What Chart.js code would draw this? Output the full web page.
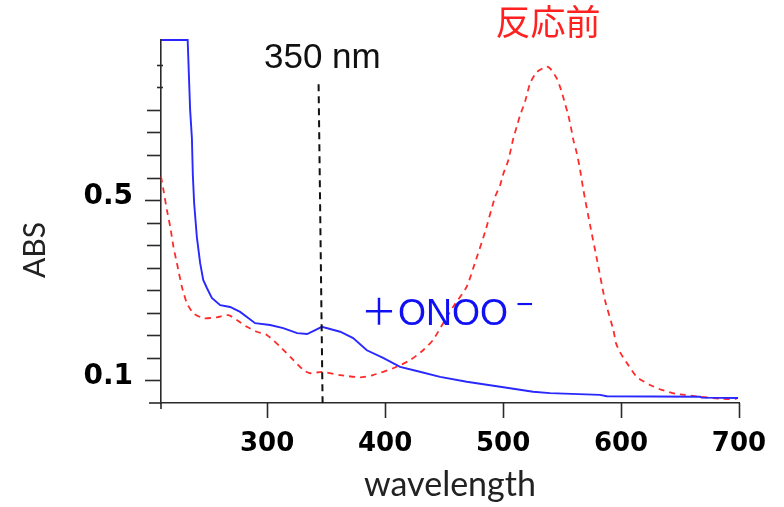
<!DOCTYPE html>
<html><head><meta charset="utf-8">
<script src="https://cdn.jsdelivr.net/npm/chart.js@4.4.0/dist/chart.umd.min.js"></script>
<style>html,body{margin:0;padding:0;background:#fff;overflow:hidden}</style>
</head><body>
<canvas id="c" width="784" height="507" style="display:block;width:784px;height:507px"></canvas>
<script>
// ---- data ----
const wavelengthBefore = [210,212.1,215,217.8,220.6,223.5,227.7,232,237.5,246,257.4,267.2,274.3,282.8,291.3,299.7,311,322.3,330.8,336.4,346.4,361.9,378.8,389.8,406.8,421.2,432.2,440.7,449.2,457.6,469.2,476.3,484.7,493.2,497.5,500.3,504.5,508.7,511.6,514.4,518.6,522.9,528.6,537,539.8,545.5,549.2,552.5,555.3,557.4,559.6,562.5,565.3,568.1,573.7,579.7,586.4,593.5,595.8,599.7,606.2,613.3,624.6,634.5,645.8,654.2,666.9,686.7,698];
const absBefore = [0.552,0.522,0.478,0.441,0.396,0.360,0.308,0.271,0.249,0.238,0.240,0.245,0.234,0.219,0.208,0.201,0.175,0.145,0.123,0.116,0.119,0.112,0.107,0.112,0.127,0.145,0.167,0.190,0.227,0.263,0.308,0.362,0.429,0.507,0.533,0.559,0.589,0.637,0.663,0.688,0.718,0.759,0.784,0.796,0.792,0.770,0.744,0.714,0.688,0.663,0.633,0.604,0.567,0.522,0.445,0.367,0.278,0.212,0.182,0.160,0.134,0.108,0.090,0.079,0.071,0.068,0.064,0.059,0.059];
const wavelengthONOO = [210,232.6,233.5,234.7,236.2,237,238.1,240.4,243.2,245.8,248.9,253.1,260.2,268.6,277.1,289.8,302.5,313.6,325.4,333.9,346.4,361.9,372.9,384.5,398.3,412.7,426.9,446.6,469.2,497.5,525.4,539.8,582.2,587.9,666.9,668.3,699.2];
const absONOO = [0.855,0.855,0.788,0.700,0.637,0.555,0.493,0.418,0.360,0.323,0.305,0.283,0.267,0.263,0.252,0.227,0.223,0.216,0.205,0.203,0.219,0.208,0.194,0.167,0.150,0.130,0.121,0.108,0.097,0.086,0.075,0.072,0.068,0.065,0.064,0.062,0.061];
const markerWavelength = [343.6,347];
const markerAbs = [0.757,0.05];
const xTickLabels = [300,400,500,600,700];
const yTickLabels = [0.1,0.5];
const yMinorTicks = [0.1,0.15,0.2,0.25,0.3,0.35,0.4,0.45,0.5,0.55,0.6,0.65,0.7,0.75,0.8];
const xAxisRange = [210,700];
const yAxisRange = [0.05,0.855];

const pts = (xs, ys) => xs.map((x,i)=>({x, y: ys[i]}));

const decor = {
  id:'decor',
  afterDraw(chart){
    const ctx = chart.ctx, xs = chart.scales.x, ys = chart.scales.y, ca = chart.chartArea;
    ctx.save();
    ctx.strokeStyle = '#2a2a2a'; ctx.lineWidth = 1.6;
    ctx.beginPath(); ctx.moveTo(149, ca.bottom); ctx.lineTo(ca.left, ca.bottom); ctx.stroke();
    yMinorTicks.forEach(v=>{
      const y = Math.round(ys.getPixelForValue(v))+0.5;
      let len = 14, ext = 0;
      if (v >= 0.745) { len = 4; ext = 2; }
      if (Math.abs(v-0.1)<1e-6 || Math.abs(v-0.5)<1e-6) len = 16;
      ctx.beginPath(); ctx.moveTo(ca.left-len, y); ctx.lineTo(ca.left+ext, y); ctx.stroke();
    });
    ctx.beginPath(); ctx.moveTo(ca.left, ca.bottom); ctx.lineTo(ca.left, ca.bottom+6); ctx.stroke();
    xTickLabels.forEach(v=>{
      const x = Math.round(xs.getPixelForValue(v))+0.5;
      ctx.beginPath(); ctx.moveTo(x, ca.bottom); ctx.lineTo(x, ca.bottom+15); ctx.stroke();
    });
    // tick labels
    ctx.fillStyle = '#000';
    ctx.font = 'bold 26px "DejaVu Sans"'; ctx.textAlign='center'; ctx.textBaseline='alphabetic';
    xTickLabels.forEach(v=> ctx.fillText(String(v), xs.getPixelForValue(v), ca.bottom + 48));
    ctx.font = 'bold 28px "DejaVu Sans"'; ctx.textAlign='right';
    yTickLabels.forEach(v=> ctx.fillText(String(v), 133, ys.getPixelForValue(v) + 4));
    // axis title
    ctx.save();
    ctx.translate(35, 250); ctx.rotate(-Math.PI/2);
    ctx.fillStyle = '#222'; ctx.font = '30px Lato'; ctx.textAlign='center'; ctx.textBaseline='middle';
    ctx.fillText('ABS', 0, 0);
    ctx.restore();
    // annotations
    ctx.fillStyle = '#111'; ctx.font = '35px "Liberation Sans"'; ctx.textAlign='center'; ctx.textBaseline='alphabetic';
    ctx.fillText('350 nm', xs.getPixelForValue(346.8), 68);
    ctx.fillStyle = '#ff2020'; ctx.font = '35px "Noto Sans CJK JP"'; ctx.textAlign='center'; ctx.textBaseline='middle';
    ctx.fillText('反応前', xs.getPixelForValue(538), 22);
    ctx.fillStyle = '#1010f5';
    ctx.font = '36px "Noto Sans CJK JP"'; ctx.textAlign='left'; ctx.textBaseline='alphabetic';
    ctx.fillText('＋', 361, 325);
    ctx.font = '36px "Liberation Sans"';
    ctx.fillText('ONOO', 398, 325);
    ctx.font = '30px "Liberation Sans"';
    ctx.fillText('−', 516, 314);
    ctx.restore();
  }
};

new Chart(document.getElementById('c'), {
  type:'line',
  data:{ datasets:[
    { data: pts(markerWavelength, markerAbs), borderColor:'#111', borderWidth:2, borderDash:[7,5], pointRadius:0, tension:0, clip:8 },
    { data: pts(wavelengthONOO, absONOO), borderColor:'#2828ff', borderWidth:1.9, pointRadius:0, tension:0, clip:8 },
    { data: pts(wavelengthBefore, absBefore), borderColor:'#ff2a2a', borderWidth:1.8, borderDash:[6,5], pointRadius:0, tension:0.2, clip:8 }
  ]},
  options:{
    responsive:false, animation:false, devicePixelRatio:1,
    layout:{ padding:{ left:0, top:40, right:45, bottom:0 } },
    plugins:{ legend:{display:false}, tooltip:{enabled:false} },
    scales:{
      x:{ type:'linear', min:xAxisRange[0], max:xAxisRange[1],
        afterFit(s){ s.height = 104; },
        afterBuildTicks(s){ s.ticks = xTickLabels.map(v=>({value:v})); },
        grid:{display:false, drawTicks:false},
        border:{display:true, color:'#2a2a2a', width:1.6},
        ticks:{ display:false },
        title:{ display:true, text:'wavelength', color:'#222', font:{family:'Lato', size:34}, padding:{top:0,bottom:2} }
      },
      y:{ type:'linear', min:yAxisRange[0], max:yAxisRange[1],
        afterFit(s){ s.width = 161; },
        afterBuildTicks(s){ s.ticks = yTickLabels.map(v=>({value:v})); },
        grid:{display:false, drawTicks:false},
        border:{display:true, color:'#2a2a2a', width:1.6},
        ticks:{ display:false }
      }
    }
  },
  plugins:[decor]
});
</script>
</body></html>
